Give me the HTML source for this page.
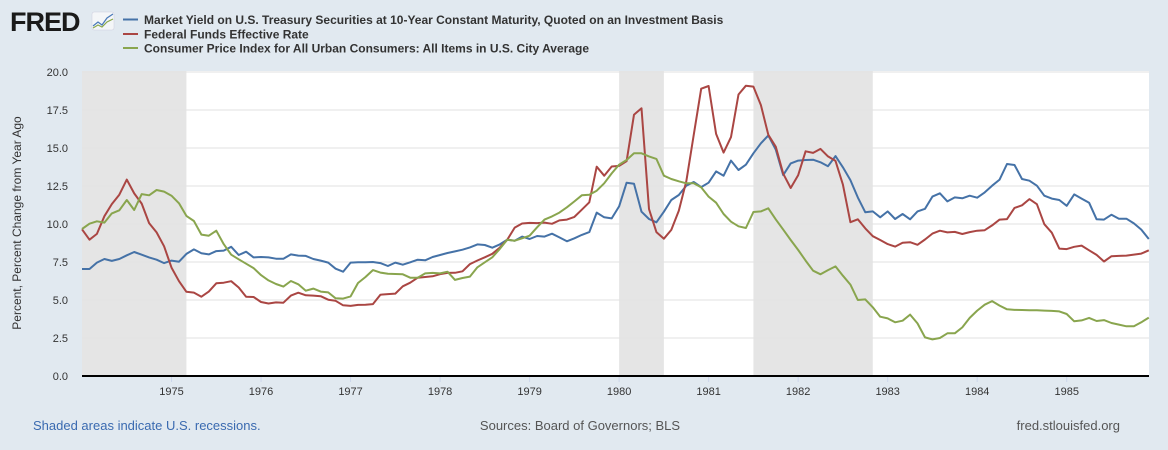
<!DOCTYPE html>
<html><head><meta charset="utf-8"><style>
body{margin:0;width:1168px;height:450px;background:#e1e9f0;font-family:"Liberation Sans",sans-serif;overflow:hidden}
svg{display:block}
</style></head><body>
<svg id="c" width="1168" height="450">
<text x="10" y="31" font-size="27" font-weight="bold" fill="#1a1a1a" font-family="Liberation Sans" letter-spacing="-1">FRED</text>
<g><rect x="92" y="12" width="22" height="18" rx="2" fill="#f4f6f8" stroke="#ccd" stroke-width="0.5"/><polyline points="93,26 98,22 102,25 107,18 113,14" fill="none" stroke="#4a7ab8" stroke-width="1.2"/><polyline points="93,28 98,25 102,27 107,22 113,19" fill="none" stroke="#8aa84a" stroke-width="1.2"/></g>
<g font-size="12" font-weight="bold" fill="#333">
<g><line x1="123" y1="19.5" x2="138" y2="19.5" stroke="#4572a7" stroke-width="2"/><text x="144" y="24">Market Yield on U.S. Treasury Securities at 10-Year Constant Maturity, Quoted on an Investment Basis</text></g>
<g><line x1="123" y1="34" x2="138" y2="34" stroke="#aa4643" stroke-width="2"/><text x="144" y="38.5">Federal Funds Effective Rate</text></g>
<g><line x1="123" y1="48" x2="138" y2="48" stroke="#89a54e" stroke-width="2"/><text x="144" y="52.5">Consumer Price Index for All Urban Consumers: All Items in U.S. City Average</text></g>
</g>
<rect x="82" y="71" width="1067" height="305" fill="#fff"/>
<g id="rec"></g><g id="grid"></g><g id="series"></g><g id="axes"></g>
<text transform="translate(21,223) rotate(-90)" text-anchor="middle" font-size="12" fill="#333">Percent, Percent Change from Year Ago</text>
<text x="33" y="430" font-size="13" fill="#3a6ab0">Shaded areas indicate U.S. recessions.</text>
<text x="580" y="430" text-anchor="middle" font-size="13" fill="#555">Sources: Board of Governors; BLS</text>
<text x="1120" y="430" text-anchor="end" font-size="13" fill="#555">fred.stlouisfed.org</text>
</svg>
<script>
const yTicks=[0,2.5,5,7.5,10,12.5,15,17.5,20];
const yearLabels=["1975","1976","1977","1978","1979","1980","1981","1982","1983","1984","1985"];
const recessions=[[0,14],[72,78],[90,106]];
const treasury10y=[7.04,7.04,7.46,7.7,7.57,7.7,7.94,8.16,7.98,7.8,7.65,7.43,7.59,7.52,8.03,8.33,8.07,8.0,8.22,8.25,8.5,7.96,8.18,7.8,7.83,7.8,7.72,7.72,8.0,7.92,7.9,7.7,7.59,7.46,7.06,6.86,7.46,7.48,7.48,7.5,7.43,7.24,7.46,7.32,7.48,7.65,7.61,7.83,
7.96,8.09,8.2,8.31,8.46,8.66,8.62,8.44,8.66,8.97,8.9,9.17,9.01,9.21,9.17,9.36,9.12,8.86,9.06,9.28,9.47,10.75,10.44,10.37,11.16,12.72,12.65,10.81,10.33,10.11,10.81,11.58,11.91,12.52,12.76,12.43,12.72,13.46,13.18,14.17,13.55,13.9,14.65,15.31,15.83,14.89,13.22,13.99,
14.17,14.21,14.23,14.06,13.8,14.47,13.73,12.89,11.75,10.77,10.83,10.44,10.83,10.33,10.66,10.31,10.83,11.0,11.8,12.02,11.49,11.75,11.69,11.86,11.73,12.08,12.52,12.92,13.95,13.88,12.96,12.85,12.52,11.86,11.67,11.58,11.2,11.95,11.67,11.4,10.31,10.29,10.61,10.35,10.35,10.04,9.63,9.01];
const fedFunds=[9.65,8.97,9.35,10.51,11.31,11.93,12.92,12.01,11.34,10.06,9.45,8.53,7.13,6.24,5.54,5.49,5.22,5.55,6.10,6.14,6.24,5.82,5.22,5.20,4.87,4.77,4.84,4.82,5.29,5.48,5.31,5.29,5.25,5.02,4.95,4.65,4.61,4.68,4.69,4.73,5.35,5.39,5.42,5.90,6.14,6.47,6.51,6.56,
6.70,6.78,6.79,6.89,7.36,7.60,7.81,8.04,8.45,8.96,9.76,10.03,10.07,10.06,10.09,10.01,10.24,10.29,10.47,10.94,11.43,13.77,13.18,13.78,13.82,14.13,17.19,17.61,10.98,9.47,9.03,9.61,10.87,12.81,15.85,18.90,19.08,15.93,14.70,15.72,18.52,19.10,19.04,17.82,15.87,15.08,13.31,12.37,
13.22,14.78,14.68,14.94,14.45,14.15,12.59,10.12,10.31,9.71,9.20,8.95,8.68,8.51,8.77,8.80,8.63,8.98,9.37,9.56,9.45,9.48,9.34,9.47,9.56,9.59,9.91,10.29,10.32,11.06,11.23,11.64,11.30,9.99,9.43,8.38,8.35,8.50,8.58,8.27,7.97,7.53,7.88,7.90,7.92,7.99,8.05,8.27];
const cpiYoY=[9.67,10.02,10.18,10.09,10.7,10.9,11.58,10.92,11.97,11.89,12.24,12.13,11.86,11.36,10.53,10.2,9.3,9.23,9.56,8.68,7.98,7.68,7.39,7.1,6.64,6.29,6.05,5.88,6.25,6.03,5.61,5.75,5.55,5.5,5.11,5.09,5.24,6.12,6.51,6.97,6.8,6.73,6.71,6.69,6.47,6.47,6.75,6.78,
6.75,6.86,6.32,6.45,6.54,7.15,7.48,7.81,8.36,8.97,8.9,9.06,9.23,9.78,10.29,10.5,10.75,11.1,11.49,11.89,11.93,12.19,12.68,13.33,13.9,14.21,14.65,14.65,14.45,14.28,13.18,12.96,12.81,12.68,12.68,12.41,11.8,11.4,10.66,10.15,9.85,9.74,10.79,10.83,11.03,10.3,9.63,8.95,
8.29,7.59,6.93,6.69,6.97,7.21,6.6,6.01,5.0,5.04,4.52,3.9,3.79,3.53,3.64,4.04,3.46,2.54,2.41,2.5,2.81,2.81,3.2,3.82,4.3,4.69,4.93,4.63,4.39,4.35,4.34,4.33,4.32,4.3,4.28,4.25,4.08,3.6,3.66,3.82,3.62,3.68,3.49,3.38,3.27,3.27,3.53,3.84];
const NS="http://www.w3.org/2000/svg";
const X0=82,DX=7.46,Y0=376,PPU=15.2;
const xs=i=>X0+DX*i, ys=v=>Y0-v*PPU;
function mk(tag,attrs,parent){const e=document.createElementNS(NS,tag);for(const k in attrs)e.setAttribute(k,attrs[k]);parent.appendChild(e);return e;}
const rec=document.getElementById('rec');
recessions.forEach(r=>{const e=mk('rect',{x:xs(r[0]),y:71,width:xs(r[1])-xs(r[0]),height:305,fill:'#e5e5e5'},rec);

});
const grid=document.getElementById('grid'),axes=document.getElementById('axes');
yTicks.forEach(v=>{if(v>0){const l=mk('line',{x1:X0,x2:1149,y1:ys(v),y2:ys(v),stroke:'#e2e2e2','stroke-width':1},grid);

}
const t=mk('text',{x:68,y:ys(v)+4,'text-anchor':'end','font-size':11,fill:'#333'},axes);t.textContent=v.toFixed(1);

});
yearLabels.forEach((y,k)=>{const x=X0+(k+1)*12*DX;
const tk=mk('line',{x1:x,x2:x,y1:376,y2:382,stroke:'#ccd6eb'},axes);


const t=mk('text',{x:x,y:395,'text-anchor':'middle','font-size':11,fill:'#333'},axes);t.textContent=y;

});
const ax=mk('line',{x1:X0,x2:1149,y1:376,y2:376,stroke:'#000','stroke-width':2},axes);


const ser=document.getElementById('series');
[[treasury10y,'#4572a7','series-10y-treasury'],[fedFunds,'#aa4643','series-fed-funds'],[cpiYoY,'#89a54e','series-cpi']].forEach(s=>{
const p=mk('polyline',{points:s[0].map((v,i)=>xs(i).toFixed(1)+','+ys(v).toFixed(1)).join(' '),fill:'none',stroke:s[1],'stroke-width':2,'stroke-linejoin':'round'},ser);

});
</script>
</body></html>
